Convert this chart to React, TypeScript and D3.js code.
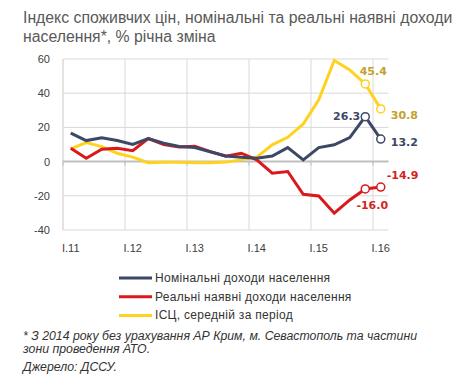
import React from "react";
import * as d3 from "d3";

const categories = ["I.11","II.11","III.11","IV.11","I.12","II.12","III.12","IV.12","I.13","II.13","III.13","IV.13","I.14","II.14","III.14","IV.14","I.15","II.15","III.15","IV.15","I.16"];
const tickLabels = ["I.11","I.12","I.13","I.14","I.15","I.16"];
const nominal = [16.6,12.3,14.0,12.3,10.0,13.5,10.7,8.8,8.2,5.8,3.3,2.6,2.0,3.3,8.2,1.0,8.2,9.8,14.0,26.3,13.2];
const real = [7.8,2.0,7.2,7.8,6.4,13.5,10.0,8.6,9.0,5.8,3.2,4.9,1.0,-6.8,-5.8,-19.1,-20.1,-30.2,-22.4,-16.0,-14.9];
const cpi = [7.4,11.1,8.8,4.9,2.6,-0.6,-0.4,-0.4,-0.6,-0.6,-0.3,1.0,2.6,9.8,14.2,22.0,36.1,59.1,53.6,45.4,30.8];
const yTicks = [60,40,20,0,-20,-40];
const seriesNames = ["Номінальні доходи населення","Реальні наявні доходи населення","ІСЦ, середній за період"];

const colors = ["#3D4766","#D9191B","#FFD21F"];
const labelColors = ["#3D4766","#D32424","#C4A02C"];

export default function App() {
  const left = 63, right = 388.5, top = 59, bottom = 230;
  const x = d3.scaleBand().domain(categories).range([left, right]);
  const y = d3.scaleLinear().domain([-40, 60]).range([bottom, top]);
  const cx = (c: string) => (x(c) as number) + x.bandwidth() / 2;
  const line = d3.line<number>().x((_, i) => cx(categories[i])).y(d => y(d));
  const series = [nominal, real, cpi];
  const drawOrder = [2, 1, 0];
  const tickCats = categories.filter((c, i) => i % 4 === 0);
  const last = categories.length - 1;

  const labels = [
    { s: 0, i: last - 1, dx: -5, dy: 3, anchor: "end" },
    { s: 0, i: last, dx: 10, dy: 7, anchor: "start" },
    { s: 1, i: last - 1, dx: 7, dy: 20, anchor: "middle" },
    { s: 1, i: last, dx: 6, dy: -8, anchor: "start" },
    { s: 2, i: last - 1, dx: 8, dy: -9, anchor: "middle" },
    { s: 2, i: last, dx: 10, dy: 10, anchor: "start" },
  ];

  return (
    <svg width={463} height={380} style={{ position: "absolute", left: 0, top: 0, background: "#fff" }}>
      <g fontFamily="Liberation Sans, Arial, sans-serif" fill="#595959" fontSize={15.8}>
        <text x={23} y={23}>Індекс споживчих цін, номінальні та реальні наявні доходи</text>
        <text x={23} y={42}>населення*, % річна зміна</text>
      </g>
      {yTicks.filter(t => t !== 0).map(t => (
        <line key={t} x1={left} x2={right} y1={y(t)} y2={y(t)} stroke="#D9D9D9" strokeWidth={1} />
      ))}
      {tickCats.map(c => {
        const gx = x(c) as number;
        return <line key={c} x1={gx} x2={gx} y1={top} y2={bottom} stroke="#D9D9D9" strokeWidth={1} />;
      })}
      <line x1={left} x2={left} y1={top} y2={bottom} stroke="#D9D9D9" strokeWidth={1} />
      <line x1={left} x2={right} y1={y(0)} y2={y(0)} stroke="#BFBFBF" strokeWidth={2} />
      {tickCats.map(c => {
        const gx = x(c) as number;
        return <line key={"t" + c} x1={gx} x2={gx} y1={y(0)} y2={y(0) + 4} stroke="#BFBFBF" strokeWidth={1} />;
      })}
      <g fontFamily="Liberation Sans, Arial, sans-serif" fontSize={11} fill="#404040" textAnchor="end">
        {yTicks.map(t => (
          <text key={t} x={50} y={y(t) + 4}>{t}</text>
        ))}
      </g>
      <g fontFamily="Liberation Sans, Arial, sans-serif" fontSize={11} fill="#404040" textAnchor="middle">
        {tickLabels.map((l, k) => (
          <text key={l} x={cx(tickCats[k])} y={252}>{l}</text>
        ))}
      </g>
      {drawOrder.map(s => (
        <path key={s} d={line(series[s]) as string} fill="none" stroke={colors[s]} strokeWidth={3} strokeLinejoin="miter" />
      ))}
      {drawOrder.map(s => [last - 1, last].map(i => (
        <circle key={s + "-" + i} cx={cx(categories[i])} cy={y(series[s][i])} r={4} fill="#fff" stroke={colors[s]} strokeWidth={1.5} />
      )))}
      <g fontFamily="DejaVu Sans, Verdana, sans-serif" fontSize={11} fontWeight="bold">
        {labels.map((L, k) => (
          <text key={k} x={cx(categories[L.i]) + L.dx} y={y(series[L.s][L.i]) + L.dy} textAnchor={L.anchor as any} fill={labelColors[L.s]}>
            {series[L.s][L.i].toFixed(1)}
          </text>
        ))}
      </g>
      <g fontFamily="Liberation Sans, Arial, sans-serif" fontSize={12} fill="#333">
        {seriesNames.map((n, k) => (
          <g key={n}>
            <line x1={119} x2={152} y1={278 + k * 18.7} y2={278 + k * 18.7} stroke={colors[k]} strokeWidth={3} />
            <text x={155} y={282 + k * 18.7} letterSpacing={0.3}>{n}</text>
          </g>
        ))}
      </g>
      <g fontFamily="Liberation Sans, Arial, sans-serif" fontSize={12.3} fill="#333" fontStyle="italic">
        <text x={23} y={340}>* З 2014 року без урахування АР Крим, м. Севастополь та частини</text>
        <text x={23} y={353}>зони проведення АТО.</text>
        <text x={23} y={371}>Джерело: ДССУ.</text>
      </g>
    </svg>
  );
}
